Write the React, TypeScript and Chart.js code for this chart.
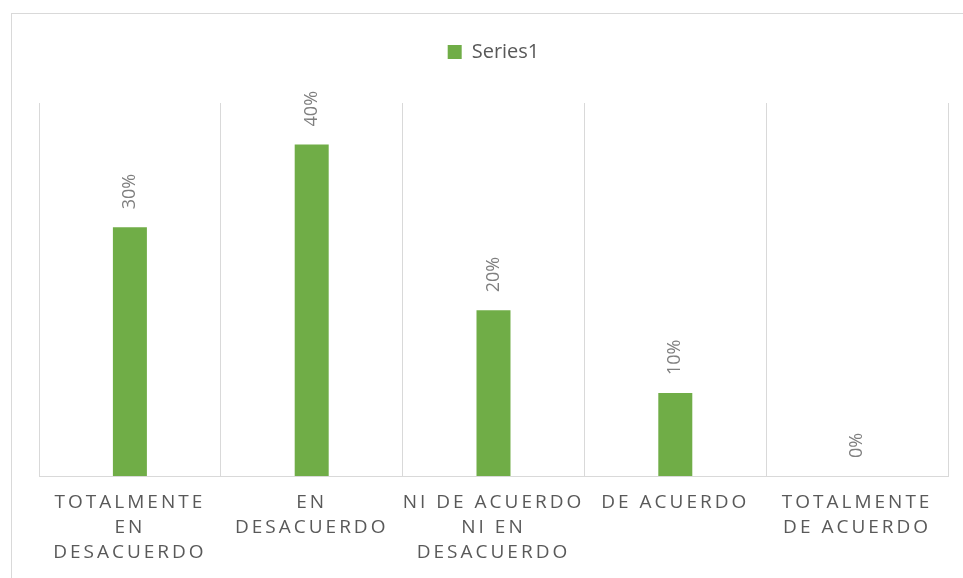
import React, { useEffect, useRef } from 'react';
import { Chart, registerables } from 'chart.js';

Chart.register(...registerables);

const categories: string[][] = [
  ['TOTALMENTE', 'EN', 'DESACUERDO'],
  ['EN', 'DESACUERDO'],
  ['NI DE ACUERDO', 'NI EN', 'DESACUERDO'],
  ['DE ACUERDO'],
  ['TOTALMENTE', 'DE ACUERDO'],
];
const seriesName = 'Series1';
const values = [0.3, 0.4, 0.2, 0.1, 0];
const yMin = 0;
const yMax = 0.45;

const GREEN = '#70AD47';
const TEXT = '#595959';
const GRID = '#d9d9d9';

const frame = {
  id: 'frame',
  beforeDraw(chart: any) {
    const ctx = chart.ctx;
    ctx.save();
    ctx.fillStyle = '#ffffff';
    ctx.fillRect(0, 0, chart.width, chart.height);
    ctx.strokeStyle = GRID;
    ctx.lineWidth = 1;
    ctx.strokeRect(11.5, 13.5, 2000, 2000);
    ctx.restore();
  },
  afterLayout(chart: any) {
    const xs = chart.scales.x;
    if (xs && !xs._lsPatched) {
      const orig = xs.drawLabels.bind(xs);
      xs.drawLabels = (area: any) => {
        const ctx = chart.ctx;
        const prev = (ctx as any).letterSpacing;
        (ctx as any).letterSpacing = '3px';
        orig(area);
        (ctx as any).letterSpacing = prev || '0px';
      };
      xs._lsPatched = true;
    }
  },
};

const dataLabels = {
  id: 'dataLabels',
  afterDatasetsDraw(chart: any) {
    const ctx = chart.ctx;
    const meta = chart.getDatasetMeta(0);
    const ds = chart.data.datasets[0];
    ctx.save();
    ctx.fillStyle = '#7f7f7f';
    ctx.font = '18px "Open Sans"';
    ctx.textAlign = 'left';
    ctx.textBaseline = 'middle';
    meta.data.forEach((bar: any, i: number) => {
      const v = ds.data[i] as number;
      const label = Math.round(v * 100) + '%';
      ctx.save();
      ctx.translate(bar.x, bar.y - 18);
      ctx.rotate(-Math.PI / 2);
      ctx.fillText(label, 0, 0);
      ctx.restore();
    });
    ctx.restore();
  },
};

export default function App() {
  const ref = useRef<HTMLCanvasElement | null>(null);

  useEffect(() => {
    if (!ref.current) return;
    Chart.defaults.font.family = '"Open Sans", sans-serif';
    const chart = new Chart(ref.current, {
      type: 'bar',
      data: {
        labels: categories,
        datasets: [
          {
            label: seriesName,
            data: values,
            backgroundColor: GREEN,
            borderWidth: 0,
            barPercentage: 0.187,
            categoryPercentage: 1,
          },
        ],
      },
      options: {
        responsive: false,
        animation: false,
        devicePixelRatio: 1,
        layout: { padding: { left: 39, right: 15, top: 32, bottom: 0 } },
        plugins: {
          legend: {
            display: true,
            position: 'top',
            labels: {
              color: TEXT,
              font: { size: 20 },
              boxWidth: 14,
              boxHeight: 14,
              padding: 10,
            },
          },
          tooltip: { enabled: false },
          title: { display: false },
        },
        scales: {
          x: {
            type: 'category',
            position: 'bottom',
            grid: { display: true, color: GRID, lineWidth: 1, drawTicks: false, offset: true },
            border: { display: true, color: GRID, width: 1 },
            ticks: {
              color: TEXT,
              font: { size: 19, lineHeight: 25 / 19 },
              padding: 14,
              autoSkip: false,
              maxRotation: 0,
              minRotation: 0,
            },
            afterFit: (s: any) => {
              s.height = 102;
            },
          },
          x2: {
            type: 'category',
            position: 'top',
            display: true,
            grid: { display: false, drawTicks: false },
            border: { display: false },
            ticks: { display: false },
            afterFit: (s: any) => {
              s.height = 31;
            },
          },
          y: {
            display: false,
            min: yMin,
            max: yMax,
          },
        },
      },
      plugins: [frame, dataLabels],
    } as any);
    return () => chart.destroy();
  }, []);

  return (
    <div style={{ position: 'fixed', left: 0, top: 0, width: 963, height: 578, background: '#fff' }}>
      <canvas ref={ref} width={963} height={578} style={{ display: 'block' }} />
    </div>
  );
}
